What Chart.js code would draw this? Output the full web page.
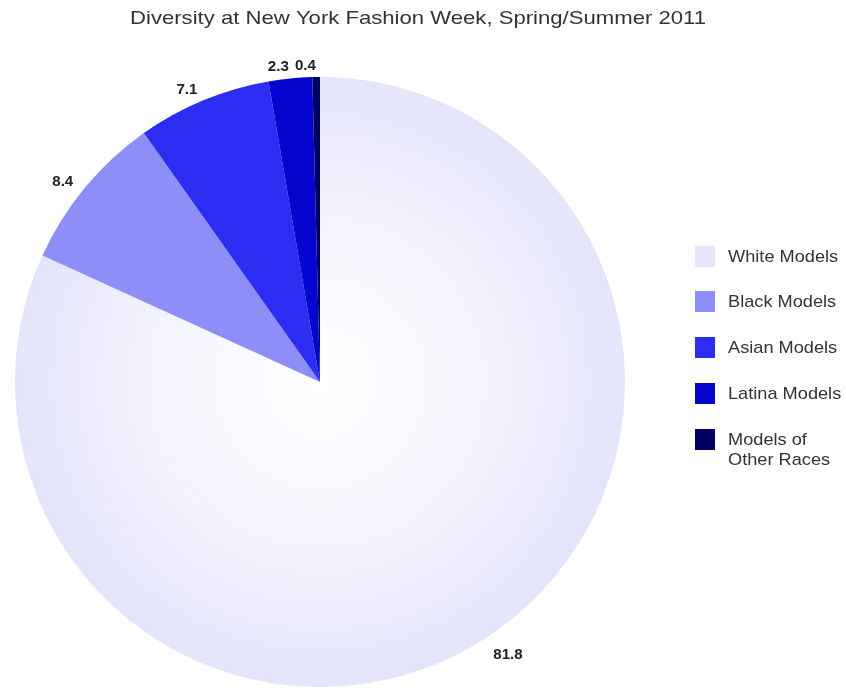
<!DOCTYPE html>
<html>
<head>
<meta charset="utf-8">
<script src="https://cdn.jsdelivr.net/npm/chart.js@4/dist/chart.umd.min.js"></script>
<style>
html,body{margin:0;padding:0;background:#fff;}
#wrap{position:relative;width:846px;height:695px;}
</style>
</head>
<body>
<div id="wrap"><canvas id="c" width="846" height="695"></canvas></div>
<script>
const titleText = "Diversity at New York Fashion Week, Spring/Summer 2011";
const categories = ["White Models", "Black Models", "Asian Models", "Latina Models", "Models of Other Races"];
const legendLines = [["White Models"], ["Black Models"], ["Asian Models"], ["Latina Models"], ["Models of", "Other Races"]];
const shares = [81.8, 8.4, 7.1, 2.3, 0.4];
const colors = ["#e6e6fc", "#8e8ef8", "#2c2cf2", "#0505cf", "#000062"];

function whiteGradient(ctx) {
  const chart = ctx.chart;
  const a = chart.chartArea;
  if (!a) return colors[0];
  const cx = (a.left + a.right) / 2, cy = (a.top + a.bottom) / 2;
  const r = Math.min(a.right - a.left, a.bottom - a.top) / 2;
  const g = chart.ctx.createRadialGradient(cx, cy, 0, cx, cy, r);
  g.addColorStop(0, "#ffffff");
  g.addColorStop(0.5, "#f5f5fe");
  g.addColorStop(1, "#e4e4fb");
  return g;
}

function stretchedText(ctx, text, x, y, sx, align) {
  const w = ctx.measureText(text).width * sx;
  let left = x;
  if (align === "center") left = x - w / 2;
  else if (align === "right") left = x - w;
  ctx.save();
  ctx.translate(left, y);
  ctx.scale(sx, 1);
  ctx.textAlign = "left";
  ctx.fillText(text, 0, 0);
  ctx.restore();
}

const overlay = {
  id: "overlay",
  afterDraw(chart) {
    const ctx = chart.ctx;
    ctx.save();
    ctx.textBaseline = "middle";
    // title
    ctx.fillStyle = "#333";
    ctx.font = "19px 'Liberation Sans', Arial, sans-serif";
    const tw = ctx.measureText(titleText).width;
    stretchedText(ctx, titleText, 418, 19, 576 / tw, "center");

    // value labels
    const meta = chart.getDatasetMeta(0);
    ctx.font = "bold 14px 'Liberation Sans', Arial, sans-serif";
    ctx.fillStyle = "#222";
    meta.data.forEach((arc, i) => {
      const mid = (arc.startAngle + arc.endAngle) / 2;
      const r = arc.outerRadius * 1.05;
      const x = arc.x + Math.cos(mid) * r;
      const y = arc.y + Math.sin(mid) * r + 4;
      stretchedText(ctx, String(shares[i]), x, y, 1.08, Math.cos(mid) >= 0 ? "left" : "right");
    });

    // legend
    const bx = 695, tx = 728;
    const ys = [256, 301, 347, 393, 439];
    ctx.font = "17px 'Liberation Sans', Arial, sans-serif";
    legendLines.forEach((lines, i) => {
      ctx.fillStyle = colors[i];
      ctx.fillRect(bx, ys[i] - 10, 20, 21);
      ctx.fillStyle = "#333";
      lines.forEach((ln, k) => stretchedText(ctx, ln, tx, ys[i] + 1 + k * 20, 1.07, "left"));
    });
    ctx.restore();
  }
};

new Chart(document.getElementById("c"), {
  type: "pie",
  data: {
    labels: categories,
    datasets: [{
      data: shares,
      backgroundColor: (ctx) => ctx.dataIndex === 0 ? whiteGradient(ctx) : colors[ctx.dataIndex],
      borderWidth: 0
    }]
  },
  options: {
    responsive: false,
    animation: false,
    layout: { padding: { left: 15, right: 221, top: 77, bottom: 8 } },
    plugins: {
      legend: { display: false },
      title: { display: false },
      tooltip: { enabled: false }
    }
  },
  plugins: [overlay]
});
</script>
</body>
</html>
